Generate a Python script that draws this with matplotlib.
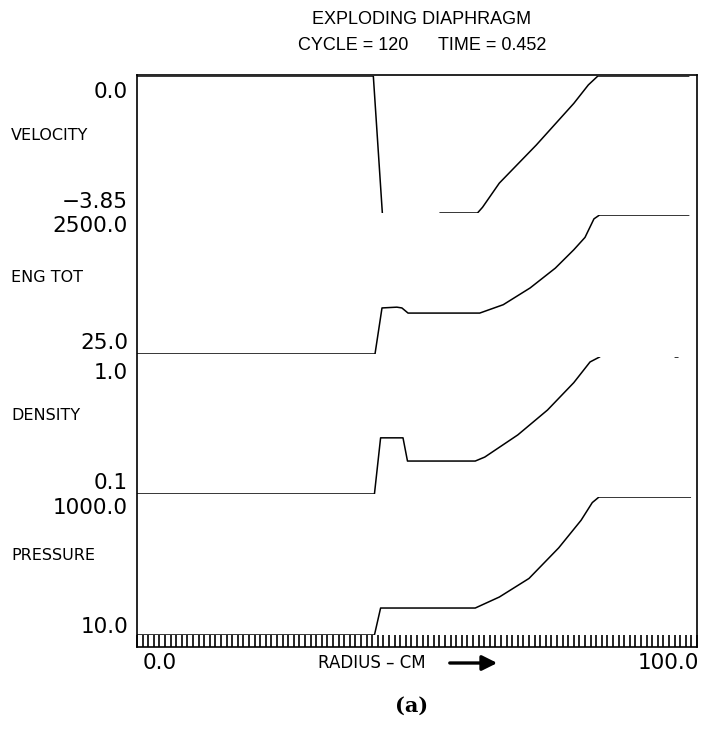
import numpy as np
import matplotlib.pyplot as plt
from matplotlib.patches import FancyArrowPatch

# radius positions (cm) and values
radius_vel = [0, 42.2, 44.0, 53.8, 54.1, 60.8, 61.7, 64.7, 71.3, 78.0, 80.6, 82.3, 98.5]
velocity = [0, 0, -4.3, -4.3, -3.85, -3.85, -3.69, -3.01, -1.94, -0.77, -0.25, 0.0, 0.0]

radius_eng = [0, 42.5, 43.75, 46.4, 47.3, 48.4, 61.2, 65.4, 70.2, 74.7, 78.0, 80.0, 81.6, 82.6, 98.5]
eng_tot = [25, 25, 115, 118, 115, 97, 97, 128, 223, 430, 790, 1190, 2200, 2500, 2500]

radius_den = [0, 42.4, 43.5, 47.5, 48.3, 60.4, 62.1, 68.0, 73.3, 78.0, 80.9, 82.6,
              83.5, 95.8, 96.1, 96.6, 96.9, 98.5]
density = [0.1, 0.1, 0.257, 0.257, 0.174, 0.174, 0.186, 0.27, 0.41, 0.65, 0.92, 1.0,
           1.08, 1.08, 1.0, 1.0, 1.08, 1.08]

radius_pre = [0, 42.4, 43.5, 60.4, 64.7, 70.0, 75.3, 79.3, 81.3, 82.5, 98.8]
pressure = [10, 10, 24.6, 24.6, 35.5, 66, 183, 460, 830, 1000, 1000]

mesh = np.arange(0, 101, 1)

W, H = 725, 730
fig = plt.figure(figsize=(W / 100, H / 100), dpi=100)
plt.rcParams['font.family'] = ['DejaVu Sans']


def rect(x0, y0, x1, y1):
    # pixel box (top-left origin) -> figure fraction rect
    return [x0 / W, 1 - y1 / H, (x1 - x0) / W, (y1 - y0) / H]


def put(x, y, txt, **kw):
    fig.text(x / W, 1 - y / H, txt, va='center', **kw)


LEFT, RIGHT = 137, 697

# outer frame with the mesh ruler along the bottom
box = fig.add_axes(rect(LEFT, 75, RIGHT, 647))
box.set_xlim(0, 100)
box.set_ylim(0, 1)
box.set_yticks([])
box.set_xticks(mesh)
box.tick_params(axis='x', direction='in', length=8.6, width=1.2, labelbottom=False)
for s in box.spines.values():
    s.set_linewidth(1.2)

panels = [
    (76, 213, radius_vel, velocity, 'linear', (-3.85, 0.0)),
    (215, 354, radius_eng, eng_tot, 'log', (25, 2500)),
    (357, 494, radius_den, density, 'log', (0.1, 1.0)),
    (497, 635, radius_pre, pressure, 'log', (10, 1000)),
]
for top, bot, xs, ys, scale, lims in panels:
    ax = fig.add_axes(rect(LEFT, top, RIGHT, bot))
    ax.set_xlim(0, 100)
    ax.set_yscale(scale)
    ax.set_ylim(*lims)
    ax.plot(xs, ys, color='black', lw=1.1)
    ax.axis('off')
    ax.patch.set_alpha(0)

# left labels
num_labels = [('0.0', 92), ('\u22123.85', 202), ('2500.0', 226), ('25.0', 343),
              ('1.0', 373), ('0.1', 483), ('1000.0', 508), ('10.0', 627)]
for txt, y in num_labels:
    put(128, y, txt, ha='right', fontsize=15.5)

name_labels = [('VELOCITY', 136), ('ENG TOT', 278), ('DENSITY', 416), ('PRESSURE', 556)]
for txt, y in name_labels:
    put(11, y, txt, ha='left', fontsize=11.5)

# titles
put(422, 20, 'EXPLODING DIAPHRAGM', ha='center', fontsize=13, family='Liberation Sans')
put(422, 46, 'CYCLE = 120      TIME = 0.452', ha='center', fontsize=13,
    family='Liberation Sans')

# x axis labels
put(160, 663, '0.0', ha='center', fontsize=15.5)
put(668, 663, '100.0', ha='center', fontsize=15.5)
put(372, 663, 'RADIUS \u2013 CM', ha='center', fontsize=12)
fig.add_artist(FancyArrowPatch(
    (447 / W, 1 - 663 / H), (500 / W, 1 - 663 / H), transform=fig.transFigure,
    arrowstyle='-|>,head_length=0.5,head_width=0.25', mutation_scale=18,
    lw=2.4, color='black'))

put(412, 706, '(a)', ha='center', fontsize=15, fontweight='bold', family='DejaVu Serif')

fig.savefig('out.png', dpi=100)
